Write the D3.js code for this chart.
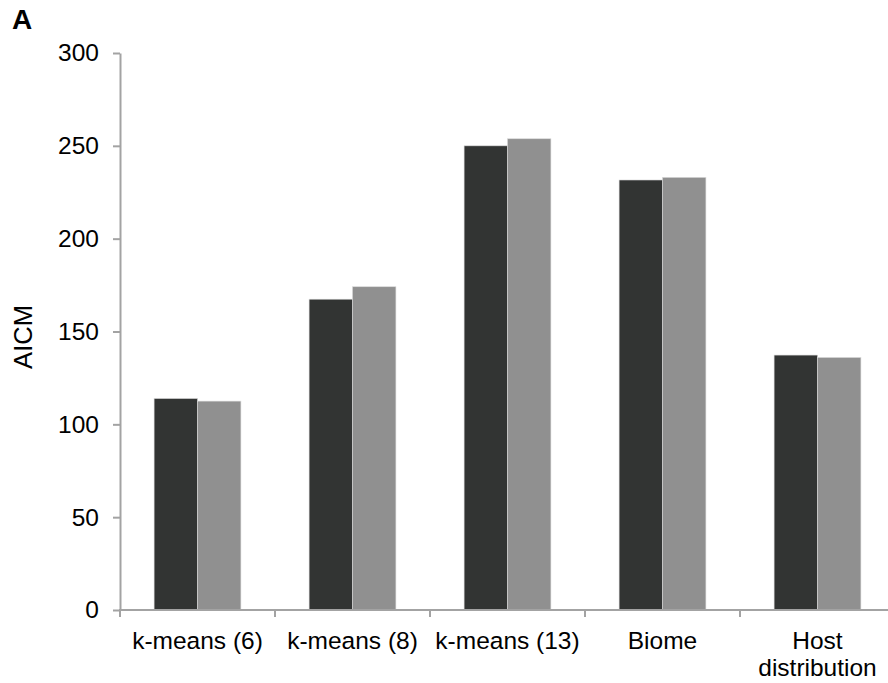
<!DOCTYPE html>
<html>
<head>
<meta charset="utf-8">
<script src="https://cdn.jsdelivr.net/npm/d3@7"></script>
<style>
html,body{margin:0;padding:0;background:#fff;}
svg{display:block;font-family:"Liberation Sans",Arial,sans-serif;}
</style>
</head>
<body>
<svg id="chart" width="888" height="683"></svg>
<script>
const categories = ["k-means (6)", "k-means (8)", "k-means (13)", "Biome", "Host distribution"];
const seriesNames = ["Series 1", "Series 2"];
const series1 = [113.9, 167.4, 250.0, 231.6, 137.3];
const series2 = [112.5, 174.1, 253.8, 233.0, 136.0];
const yTicks = [0, 50, 100, 150, 200, 250, 300];
const colors = ["#323433", "#909090"];

const svg = d3.select("#chart");
const x0 = d3.scaleBand().domain(categories).range([120, 895]).paddingInner(0.44).paddingOuter(0.22);
const x1 = d3.scaleBand().domain(seriesNames).range([0, x0.bandwidth()]);
const y = d3.scaleLinear().domain([0, 300]).range([610, 53]);

const data = categories.map((c, i) => ({cat: c, vals: [series1[i], series2[i]]}));

// bars
const g = svg.append("g");
g.selectAll("g.grp").data(data).join("g")
  .attr("class", "grp")
  .attr("transform", d => `translate(${x0(d.cat)},0)`)
  .selectAll("rect").data(d => d.vals.map((v, j) => ({v, s: seriesNames[j], j})))
  .join("rect")
  .attr("x", d => x1(d.s))
  .attr("width", x1.bandwidth())
  .attr("y", d => y(d.v))
  .attr("height", d => y(0) - y(d.v))
  .attr("fill", d => colors[d.j])
  .attr("stroke", "#d8d8d8")
  .attr("stroke-width", 0.6);

const axisColor = "#a3a3a3";
const fs = 24.5;

// y axis
const yAxis = svg.append("g").attr("transform", "translate(120,0)")
  .call(d3.axisLeft(y).tickValues(yTicks).tickSize(7).tickPadding(14).tickSizeOuter(0));
yAxis.select(".domain").attr("stroke", axisColor).attr("stroke-width", 2);
yAxis.selectAll(".tick line").attr("stroke", axisColor).attr("stroke-width", 2);
yAxis.selectAll(".tick text").attr("font-size", fs).attr("fill", "#000")
  .attr("font-family", "Liberation Sans, Arial, sans-serif");

// x axis
const xEdge = d3.scaleLinear().domain([0, categories.length]).range([120, 895]);
svg.append("line").attr("x1", 119).attr("x2", 888).attr("y1", y(0)).attr("y2", y(0))
  .attr("stroke", axisColor).attr("stroke-width", 2);
svg.append("g").selectAll("line").data(d3.range(categories.length + 1)).join("line")
  .attr("x1", d => xEdge(d)).attr("x2", d => xEdge(d))
  .attr("y1", y(0)).attr("y2", y(0) + 7)
  .attr("stroke", axisColor).attr("stroke-width", 2);

// x labels (wrapped)
const labelLines = {"Host distribution": ["Host", "distribution"]};
const xl = svg.append("g");
categories.forEach(c => {
  const lines = labelLines[c] || [c];
  const t = xl.append("text")
    .attr("x", x0(c) + x0.bandwidth() / 2)
    .attr("y", 649)
    .attr("text-anchor", "middle")
    .attr("font-size", fs)
    .attr("fill", "#000");
  lines.forEach((ln, k) => {
    t.append("tspan").attr("x", x0(c) + x0.bandwidth() / 2).attr("dy", k === 0 ? 0 : 27).text(ln);
  });
});

// y title
svg.append("text")
  .attr("transform", "translate(32,337) rotate(-90)")
  .attr("text-anchor", "middle")
  .attr("font-size", 25.5)
  .attr("fill", "#000")
  .text("AICM");

// panel letter
svg.append("text")
  .attr("x", 12).attr("y", 29)
  .attr("font-size", 28)
  .attr("font-weight", "bold")
  .attr("fill", "#000")
  .text("A");
</script>
</body>
</html>
